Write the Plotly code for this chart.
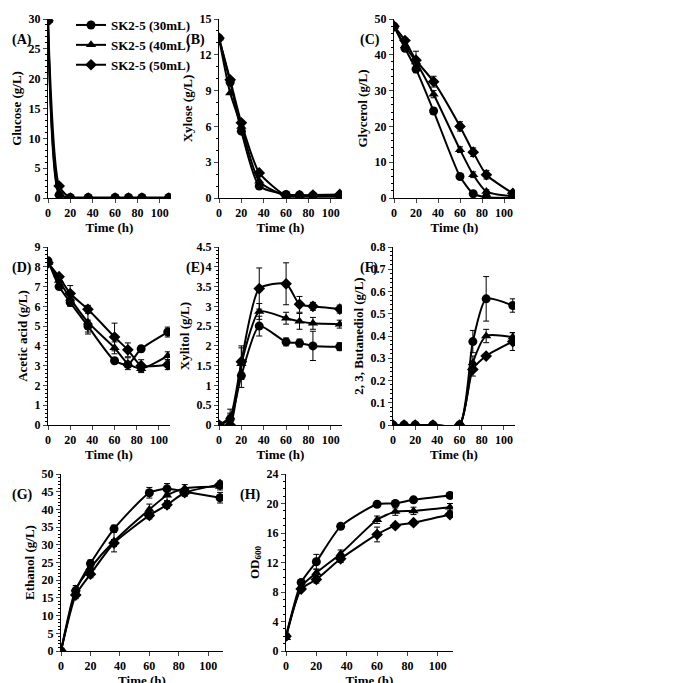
import plotly.graph_objects as go

time = [0, 10, 20, 36, 60, 72, 84, 108]
series_names = ["SK2-5 (30mL)", "SK2-5 (40mL)", "SK2-5 (50mL)"]

glucose = [[29.7, 0.5, 0.1, 0.1, 0.1, 0.1, 0.1, 0.1],
           [29.7, 0.8, 0.0, 0.0, 0.0, 0.0, 0.0, 0.0],
           [29.7, 2.0, 0.0, 0.0, 0.0, 0.0, 0.0, 0.0]]
xylose = [[13.4, 9.7, 5.6, 1.0, 0.3, 0.25, 0.2, 0.2],
          [13.4, 8.8, 6.0, 1.4, 0.15, 0.1, 0.1, 0.1],
          [13.4, 9.9, 6.3, 2.1, 0.2, 0.2, 0.25, 0.3]]
glycerol = [[48, 41.8, 36, 24.3, 6, 1.2, 0.2, 0],
            [48, 42.5, 38, 29, 13.5, 6.5, 1.8, 0.5],
            [48, 44, 38.5, 32.5, 20, 12.8, 6.5, 1.3]]
acetic = [[8.3, 7.0, 6.2, 5.0, 3.25, 3.05, 3.85, 4.7],
          [8.2, 7.3, 6.4, 5.2, 3.9, 3.1, 2.85, 3.5],
          [8.2, 7.5, 6.65, 5.85, 4.45, 3.8, 3.0, 3.05]]
xylitol = [[0, 0.15, 1.25, 2.5, 2.1, 2.07, 2.0, 1.98],
           [0, 0.2, 1.55, 2.87, 2.7, 2.62, 2.57, 2.55],
           [0, 0.0, 1.6, 3.45, 3.57, 3.05, 3.0, 2.93]]
butanediol = [[0, 0, 0, 0, 0, 0.375, 0.567, 0.537],
              [0, 0, 0, 0, 0, 0.28, 0.40, 0.395],
              [0, 0, 0, 0, 0, 0.25, 0.31, 0.375]]
ethanol = [[0, 17, 24.7, 34.5, 44.7, 45.8, 45.0, 43.3],
           [0, 17.5, 23.5, 31, 40, 44, 46, 46.5],
           [0, 15.8, 21.7, 30.5, 38.3, 41.3, 44.7, 47]]
od600 = [[2, 9.3, 12.1, 16.9, 19.9, 20, 20.5, 21.1],
         [1.8, 8.7, 10.6, 13.2, 17.8, 18.9, 19.0, 19.5],
         [2, 8.4, 9.7, 12.5, 15.8, 17, 17.4, 18.5]]

err_glycerol = [[0, 0.5, 1, 0.8, 0.5, 0.5, 0.3, 0], [0, 0.5, 1, 1, 0.8, 0.8, 0.5, 0.3], [0, 0.5, 2.5, 1.5, 1.3, 1.2, 1.2, 0.5]]
err_acetic = [[0, 0.1, 0.2, 0.3, 0.1, 0.1, 0.15, 0.25], [0, 0.1, 0.2, 0.6, 0.3, 0.3, 0.2, 0.2], [0, 0.1, 0.4, 0.2, 0.7, 0.35, 0.3, 0.25]]
err_xylitol = [[0, 0.1, 0.3, 0.25, 0.1, 0.1, 0.37, 0.1], [0, 0.2, 0.4, 0.2, 0.15, 0.2, 0.15, 0.1], [0, 0.3, 0.4, 0.52, 0.53, 0.2, 0.1, 0.1]]
err_butanediol = [[0, 0, 0, 0, 0, 0.05, 0.1, 0.03], [0, 0, 0, 0, 0, 0.03, 0.03, 0.02], [0, 0, 0, 0, 0, 0.03, 0.01, 0.04]]
err_ethanol = [[0, 1, 1, 1, 1.5, 1.5, 1, 1.5], [0, 1, 1, 3, 1.5, 1.5, 1, 1], [0, 1, 1, 1, 1, 1, 1, 1]]
err_od = [[0, 0.3, 1, 0.3, 0.3, 0.3, 0.3, 0.3], [0, 0.3, 0.5, 0.5, 0.5, 0.5, 0.5, 0.5], [0, 0.3, 0.5, 0.5, 1, 0.3, 0.3, 0.3]]

symbols = ["circle", "triangle-up", "diamond"]
W, H = 690, 683
FONT = "Liberation Serif"

panels = [
    (glucose, None, "Glucose (g/L)", "(A)", 30, 5, [40, 163, 11, 190]),
    (xylose, None, "Xylose (g/L)", "(B)", 15, 3, [211, 334, 11, 190]),
    (glycerol, err_glycerol, "Glycerol (g/L)", "(C)", 50, 10, [386, 507, 11, 190]),
    (acetic, err_acetic, "Acetic acid (g/L)", "(D)", 9, 1, [40, 162, 239, 417]),
    (xylitol, err_xylitol, "Xylitol (g/L)", "(E)", 4.5, 0.5, [211, 334, 239, 417]),
    (butanediol, err_butanediol, "2, 3, Butanediol (g/L)", "(F)", 0.8, 0.1, [385, 507, 239, 417]),
    (ethanol, err_ethanol, "Ethanol (g/L)", "(G)", 50, 5, [53, 215, 466, 643]),
    (od600, err_od, "OD<sub>600</sub>", "(H)", 24, 4, [278, 445, 466, 643]),
]
letter_x = [2, 176, 350, 2, 176, 350, 2, 230]

fig = go.Figure()
layout = {}
for i, (data, err, ylab, letter, ymax, dt, box) in enumerate(panels):
    n = "" if i == 0 else str(i + 1)
    x0, x1, yt, yb = box
    for s in range(3):
        fig.add_trace(go.Scatter(
            x=time, y=data[s], name=series_names[s], showlegend=(i == 0),
            mode="lines+markers",
            line=dict(color="black", width=2, shape="spline", smoothing=0.6),
            marker=dict(symbol=symbols[s], size=9, color="black"),
            error_y=dict(type="data", array=err[s], color="black", thickness=1, width=3) if err else None,
            xaxis="x" + n, yaxis="y" + n))
    layout["xaxis" + n] = dict(domain=[x0 / W, x1 / W], range=[0, 110], dtick=20, anchor="y" + n,
                               automargin=False,
                               showline=True, linecolor="black", ticks="outside", ticklen=4,
                               tickfont=dict(family=FONT, size=12, color="black", weight="bold"),
                               title=dict(text="Time (h)", standoff=2,
                                          font=dict(family=FONT, size=13, color="black", weight="bold")),
                               showgrid=False, zeroline=False)
    layout["yaxis" + n] = dict(domain=[1 - yb / H, 1 - yt / H], range=[0, ymax], dtick=dt, anchor="x" + n,
                               automargin=False,
                               showline=True, linecolor="black", ticks="outside", ticklen=4,
                               minor=dict(ticks="outside", ticklen=2, nticks=5, tickcolor="black"),
                               tickfont=dict(family=FONT, size=12, color="black", weight="bold"),
                               title=dict(text=ylab, standoff=4,
                                          font=dict(family=FONT, size=13, color="black", weight="bold")),
                               showgrid=False, zeroline=False)
    fig.add_annotation(text="<b>" + letter + "</b>", xref="paper", yref="paper",
                       x=letter_x[i] / W, y=1 - (yt + 21) / H, xanchor="left", yanchor="middle",
                       showarrow=False, font=dict(family=FONT, size=14, color="black"))

fig.update_layout(**layout)
fig.update_layout(width=W, height=H, margin=dict(l=0, r=0, t=0, b=0, autoexpand=False),
                  plot_bgcolor="white", paper_bgcolor="white",
                  legend=dict(x=63 / W, y=1 - 2 / H, xanchor="left", yanchor="top",
                              bgcolor="rgba(0,0,0,0)", tracegroupgap=0, itemwidth=30,
                              font=dict(family=FONT, size=13, color="black", weight="bold")))
fig.write_html("out.html")
